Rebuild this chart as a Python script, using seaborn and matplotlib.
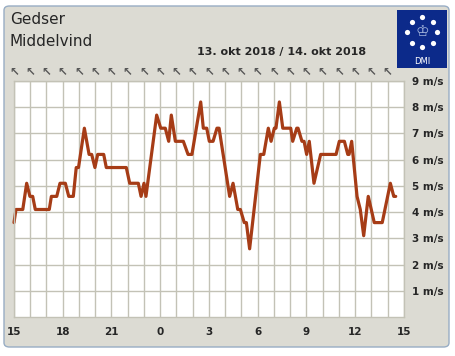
import numpy as np
import matplotlib
matplotlib.use("Agg")
import matplotlib.pyplot as plt
from matplotlib.patches import FancyBboxPatch
import seaborn as sns

# hours after 13 okt 2018 15:00, mean wind in m/s
hours = [0.0, 0.12, 0.54, 0.78, 0.98, 1.15, 1.31, 2.17, 2.30, 2.63, 2.83, 3.16,
         3.37, 3.65, 3.83, 3.97, 4.33, 4.62, 4.78, 4.98, 5.15, 5.52, 5.68, 6.91,
         7.12, 7.65, 7.82, 8.0, 8.12, 8.78, 9.03, 9.31, 9.52, 9.68, 9.93, 10.42,
         10.71, 10.95, 11.49, 11.65, 11.86, 12.02, 12.25, 12.49, 12.62, 13.27,
         13.48, 13.77, 13.93, 14.17, 14.30, 14.50, 15.16, 15.37, 15.65, 15.82,
         16.02, 16.12, 16.33, 16.54, 17.03, 17.15, 17.40, 17.48, 17.72, 17.85,
         18.01, 18.17, 18.46, 18.87, 19.82, 20.02, 20.33, 20.54, 20.62, 20.78,
         21.11, 21.31, 21.52, 21.80, 22.17, 22.66, 23.16, 23.37, 23.49]
speed = [3.6, 4.1, 4.1, 5.1, 4.6, 4.6, 4.1, 4.1, 4.6, 4.6, 5.1, 5.1,
         4.6, 4.6, 5.7, 5.7, 7.2, 6.2, 6.2, 5.7, 6.2, 6.2, 5.7, 5.7,
         5.1, 5.1, 4.6, 5.1, 4.6, 7.7, 7.2, 7.2, 6.7, 7.7, 6.7, 6.7,
         6.2, 6.2, 8.2, 7.2, 7.2, 6.7, 6.7, 7.2, 7.2, 4.6,
         5.1, 4.1, 4.1, 3.6, 3.6, 2.6, 6.2, 6.2, 7.2, 6.7,
         7.2, 7.2, 8.2, 7.2, 7.2, 6.7, 7.2, 7.2, 6.7, 6.7,
         6.2, 6.7, 5.1, 6.2, 6.2, 6.7, 6.7, 6.2, 6.2, 6.7,
         4.6, 4.1, 3.1, 4.6, 3.6, 3.6, 5.1, 4.6, 4.6]

tick_hours = [0, 3, 6, 9, 12, 15, 18, 21, 24]
tick_labels = ["15", "18", "21", "0", "3", "6", "9", "12", "15"]
speed_ticks = [1, 2, 3, 4, 5, 6, 7, 8, 9]
arrow_hours = list(range(24))

bg = "#dcdbd3"
grid_col = "#c3c2b6"
line_col = "#a63c16"

sns.set_style("white")
plt.rcParams["font.family"] = ["DejaVu Sans"]

fig = plt.figure(figsize=(4.56, 3.56), dpi=100)
fig.patch.set_facecolor("white")
W, H = 456, 356

# rounded frame
frame = FancyBboxPatch((4 / W, 1 - 347 / H), 445 / W, 341 / H,
                       boxstyle="round,pad=0,rounding_size=0.012",
                       transform=fig.transFigure, facecolor=bg,
                       edgecolor="#98adc4", linewidth=1.0, zorder=-10)
fig.patches.append(frame)

ax = fig.add_axes([14 / W, 1 - 317 / H, 390 / W, 236 / H])
ax.set_facecolor("white")
sns.lineplot(x=hours, y=speed, ax=ax, color=line_col, linewidth=2.3)
for ln in ax.lines:
    ln.set_clip_on(False)

ax.set_xlim(0, 24)
ax.set_ylim(0, 9)
ax.set_xticks(range(25), minor=True)
ax.set_xticks(tick_hours)
ax.set_xticklabels(tick_labels, fontsize=7.5, fontweight="bold")
ax.set_yticks(speed_ticks)
ax.set_yticklabels([f"{v} m/s" for v in speed_ticks], fontsize=7.5, fontweight="bold")
ax.yaxis.tick_right()
ax.tick_params(axis="y", length=0, pad=6)
ax.tick_params(axis="x", which="major", length=4, color=grid_col, pad=3)
ax.tick_params(axis="x", which="minor", length=0)
ax.grid(True, which="both", color=grid_col, linewidth=1.0)
ax.set_axisbelow(True)
for s in ax.spines.values():
    s.set_color(grid_col)
    s.set_linewidth(1.0)

# wind direction arrows (pointing north-west)
for h in arrow_hours:
    ax.text(h, 9.37, "\u2196", ha="center", va="center", fontsize=8.5,
            fontweight="bold", color="#575757", clip_on=False)

fig.text(10 / W, 1 - 20 / H, "Gedser", fontsize=11, va="center", ha="left")
fig.text(10 / W, 1 - 41 / H, "Middelvind", fontsize=11, va="center", ha="left")
fig.text(366 / W, 1 - 52 / H, "13. okt 2018 / 14. okt 2018", fontsize=8,
         fontweight="bold", va="center", ha="right")

# DMI logo
lax = fig.add_axes([397 / W, 1 - 68 / H, 50 / W, 58 / H])
lax.set_facecolor("#0c2a8a")
lax.set_xlim(0, 50)
lax.set_ylim(0, 58)
lax.set_xticks([])
lax.set_yticks([])
for s in lax.spines.values():
    s.set_visible(False)
ang = np.deg2rad(np.arange(0, 360, 45) + 90)
lax.scatter(25.3 + 15 * np.cos(ang), 35.7 + 15 * np.sin(ang), s=14, color="white", linewidths=0)
lax.text(25.3, 36, "\u2654", ha="center", va="center", fontsize=11, color="#a9bbe0")
lax.text(25.3, 7, "DMI", ha="center", va="center", fontsize=6, color="white")

fig.savefig("out.png", dpi=100, facecolor=fig.get_facecolor())
